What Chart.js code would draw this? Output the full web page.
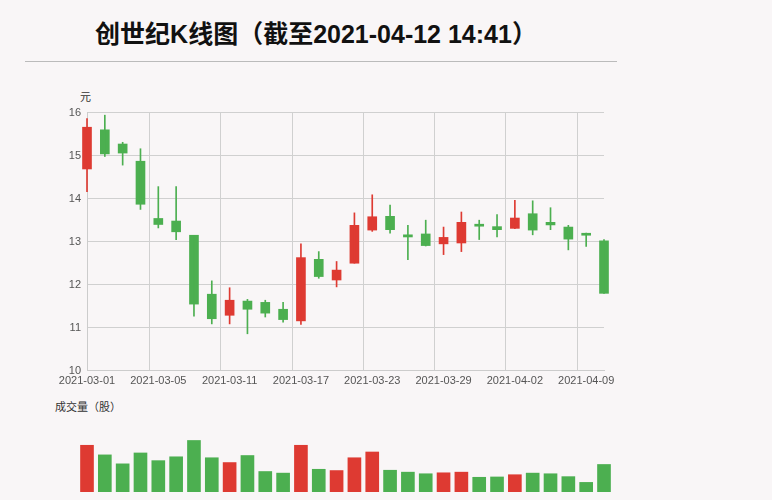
<!DOCTYPE html>
<html><head><meta charset="utf-8">
<script src="https://cdn.jsdelivr.net/npm/chart.js@4"></script>
<style>
body{margin:0;background:#f9f6f7;width:772px;height:500px;overflow:hidden;position:relative;font-family:"Liberation Sans","Noto Sans CJK SC",sans-serif}
#t{position:absolute;left:0;width:632px;top:14px;text-align:center;font-size:25px;font-weight:bold;color:#111;font-family:"Liberation Sans","Noto Sans CJK SC",sans-serif}
#hr{position:absolute;left:25px;width:592px;top:61px;border-top:1px solid #bbb}
.l{position:absolute;font-size:11px;color:#333}
canvas{position:absolute}
</style></head><body>
<div id="t">创世纪K线图（截至2021-04-12 14:41）</div>
<div id="hr"></div>
<div class="l" style="left:80px;top:88px">元</div>
<div class="l" style="left:55px;top:398px">成交量（股）</div>
<div style="position:absolute;left:0;top:100px;width:640px;height:292px"><canvas id="p"></canvas></div>
<div style="position:absolute;left:0;top:428px;width:640px;height:64px"><canvas id="v"></canvas></div>
<script>
const categories=["2021-03-01","2021-03-02","2021-03-03","2021-03-04","2021-03-05","2021-03-08","2021-03-09","2021-03-10","2021-03-11","2021-03-12","2021-03-15","2021-03-16","2021-03-17","2021-03-18","2021-03-19","2021-03-22","2021-03-23","2021-03-24","2021-03-25","2021-03-26","2021-03-29","2021-03-30","2021-03-31","2021-04-01","2021-04-02","2021-04-06","2021-04-07","2021-04-08","2021-04-09","2021-04-12"];
const opens=[14.69,15.60,15.27,14.87,13.54,13.48,13.15,11.78,11.29,11.62,11.59,11.43,11.16,12.59,12.11,12.50,13.27,13.59,13.16,13.18,12.95,12.97,13.40,13.35,13.31,13.65,13.45,13.34,13.19,13.02];
const closes=[15.66,15.04,15.06,13.87,13.40,13.23,11.55,11.21,11.64,11.43,11.34,11.19,12.63,12.19,12.34,13.38,13.58,13.28,13.11,12.91,13.10,13.45,13.36,13.28,13.55,13.27,13.39,13.06,13.15,11.80];
const highs=[15.86,15.94,15.31,15.16,14.28,14.28,13.15,12.09,11.93,11.66,11.64,11.59,12.95,12.77,12.54,13.67,14.09,13.85,13.38,13.50,13.34,13.69,13.50,13.63,13.96,13.95,13.79,13.38,13.20,13.05];
const lows=[14.16,14.98,14.78,13.75,13.32,13.05,11.27,11.09,11.09,10.86,11.25,11.13,11.08,12.15,11.95,12.50,13.24,13.20,12.58,12.90,12.70,12.77,13.05,13.11,13.30,13.16,13.28,12.81,12.89,11.80];
const volumes=[146,116,88,122,98,110,161,107,92,114,64,59,146,71,67,107,125,68,62,57,60,62,46,47,54,59,57,48,30,86];
const yTicks=[10,11,12,13,14,15,16];
const RED='#de3a32',GREEN='#4caf50';
const cols=opens.map((o,i)=>closes[i]>=o?RED:GREEN);
const grid={color:c=>c.index%4===0?'#d0d0d0':'rgba(0,0,0,0)',borderDash:[2,2],drawTicks:false};
new Chart(document.getElementById('p'),{type:'bar',
data:{labels:categories,datasets:[
{data:lows.map((l,i)=>[l,highs[i]]),backgroundColor:cols,barThickness:1,grouped:false,clip:false},
{data:opens.map((o,i)=>[o,closes[i]]),backgroundColor:cols,barThickness:9,grouped:false,clip:false,minBarLength:2}]},
options:{responsive:true,maintainAspectRatio:false,animation:false,
layout:{padding:{top:8,right:36,left:0,bottom:0}},
plugins:{legend:{display:false},tooltip:{enabled:false}},
scales:{
x:{offset:false,grid:{...grid},border:{color:'#ccc'},
ticks:{autoSkip:false,maxRotation:0,padding:4,color:'#555',font:{size:11,family:'Liberation Sans'},callback:(v,i)=>i%4===0?categories[i]:''}},
y:{min:yTicks[0],max:yTicks[yTicks.length-1],afterBuildTicks:a=>{a.ticks=yTicks.map(v=>({value:v}))},
afterFit:a=>{a.width=87},border:{color:'#ccc'},
grid:{color:'#d0d0d0',borderDash:[2,2],drawTicks:false},
ticks:{padding:6,color:'#555',font:{size:11,family:'Liberation Sans'}}}}}});
new Chart(document.getElementById('v'),{type:'bar',
data:{labels:categories,datasets:[{data:volumes,backgroundColor:cols,barThickness:13,clip:false}]},
options:{responsive:true,maintainAspectRatio:false,animation:false,
layout:{padding:{top:0,right:36,left:87,bottom:0}},
plugins:{legend:{display:false},tooltip:{enabled:false}},
scales:{x:{display:false,offset:false},y:{display:false,min:0}}}});
</script></body></html>
